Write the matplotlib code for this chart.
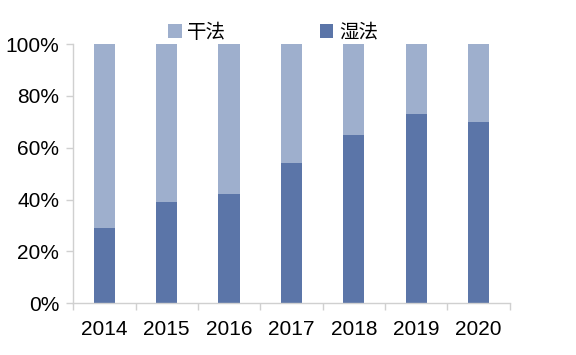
import numpy as np
import matplotlib.pyplot as plt
from matplotlib.ticker import FixedLocator, PercentFormatter

years = ['2014', '2015', '2016', '2017', '2018', '2019', '2020']
wet = [29, 39, 42, 54, 65, 73, 70]
dry = [100 - v for v in wet]

light = '#9eafcd'
dark = '#5b75a8'
axis_grey = '#d0d0d0'

plt.rcParams['font.family'] = ['Liberation Sans', 'Noto Sans CJK SC', 'DejaVu Sans']

fig = plt.figure(figsize=(5.76, 3.55), dpi=100)
ax = fig.add_axes([0.127, 0.146, 0.758, 0.730])

x = np.arange(len(years))
ax.bar(x, wet, width=0.34, color=dark, label='湿法')
ax.bar(x, dry, width=0.34, bottom=wet, color=light, label='干法')

ax.set_xlim(-0.5, len(years) - 0.5)
ax.set_ylim(0, 100)
ax.set_yticks(np.arange(0, 101, 20))
ax.yaxis.set_major_formatter(PercentFormatter(decimals=0))
ax.set_xticks(x)
ax.set_xticklabels(years)
ax.xaxis.set_minor_locator(FixedLocator(np.arange(-0.5, len(years), 1)))
ax.tick_params(axis='x', which='major', length=0, pad=12, labelsize=15)
ax.tick_params(axis='x', which='minor', length=5, color=axis_grey, width=1)
ax.tick_params(axis='y', length=5, color=axis_grey, width=1, pad=5, labelsize=15)

for s in ['top', 'right']:
    ax.spines[s].set_visible(False)
for s in ['left', 'bottom']:
    ax.spines[s].set_color(axis_grey)
    ax.spines[s].set_linewidth(1)

handles, labels = ax.get_legend_handles_labels()
leg = ax.legend(handles[::-1], labels[::-1], loc='center',
                bbox_to_anchor=(0.458, 1.046), ncol=2, frameon=False,
                handlelength=0.7, handleheight=0.7, handletextpad=0.3,
                columnspacing=4.8, borderpad=0,
                prop={'family': 'Noto Sans CJK SC', 'size': 14})

fig.savefig('out.png', dpi=100)
